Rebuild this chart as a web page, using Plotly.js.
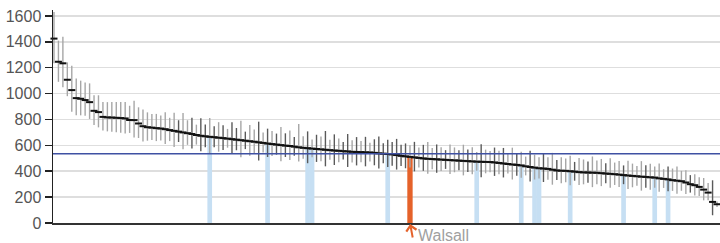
<!DOCTYPE html>
<html>
<head>
<meta charset="utf-8">
<script src="https://cdn.plot.ly/plotly-3.0.1.min.js"></script>
<style>html,body{margin:0;padding:0;background:#fff;}#chart{width:720px;height:243px;}</style>
</head>
<body>
<div id="chart"></div>
<script>
// Rates sorted from highest to lowest (one entry per area)
const values = [
1425,1246,1234,1107,1027,965,960,950,934,867,
857,820,816,815,813,811,808,796,795,769,
748,740,737,733,730,725,718,712,706,700,
694,688,680,674,670,666,663,659,656,652,
648,644,640,636,632,628,623,619,614,610,
606,602,598,595,590,585,581,578,575,572,
569,566,563,560,558,555,553,550,549,548,
546,545,542,538,536,533,530,525,519,515,
511,507,503,499,496,494,492,490,488,486,
484,482,480,478,476,474,473,472,471,468,
464,460,456,452,449,445,438,433,428,423,
421,418,412,406,404,403,400,397,393,391,
390,389,388,385,382,380,377,374,370,367,
364,361,358,356,353,351,345,341,337,331,
327,323,313,300,292,279,258,235,163,145];
// Upper and lower 95% confidence interval distances
const ciPlus = [
205,163,206,134,188,152,140,135,145,120,
130,115,118,120,122,125,128,110,150,125,
130,115,105,110,100,130,95,140,88,150,
100,125,80,135,92,145,85,120,100,75,
130,90,150,70,125,95,160,80,115,100,
85,140,95,120,75,180,90,130,70,110,
100,145,80,125,95,70,135,90,115,85,
120,75,105,130,80,110,95,125,85,100,
90,120,80,105,130,85,115,95,75,120,
100,80,125,90,110,75,135,95,85,115,
95,120,80,130,90,105,75,125,100,85,
115,90,130,80,105,95,120,75,110,100,
85,125,95,110,80,120,90,105,75,115,
95,80,120,90,105,85,115,75,100,90,
110,80,95,70,85,75,90,75,167,22];
const ciMinus = [
190,155,184,127,168,132,128,122,130,110,
118,105,108,110,112,114,116,100,135,112,
118,104,96,100,92,115,85,125,80,130,
90,112,74,120,85,128,78,108,92,70,
115,82,132,65,112,88,140,74,104,92,
78,124,88,108,70,110,84,116,66,100,
92,128,74,112,88,65,120,83,104,79,
108,70,96,116,74,100,88,112,79,92,
83,108,74,96,116,79,104,88,70,108,
92,74,112,83,100,70,120,88,79,104,
88,108,74,116,83,96,70,112,92,79,
104,83,116,74,96,88,108,70,100,92,
79,112,88,100,74,108,83,96,70,104,
88,74,108,83,96,79,104,70,92,83,
100,74,88,65,79,70,83,60,103,22];
// Areas whose interval is drawn in the darker grey
const darkIdx = [28,31,33,34,36,38,40,41,43,46,48,50,52,54,57,59,61,63,65,66,68,70,72,73,74,75,76,77,78,79,81,83,86,88,91,93,96,99,101,104,107,110,113,117,120,124,128,133,138,143,148];
// Highlighted comparator areas and the selected area
const highlightIdx = [35,48,57,58,75,95,105,108,109,116,128,135,138];
const selectedIdx = 80;
const selectedName = "Walsall";
const englandValue = 535;
const yTicks = [0,200,400,600,800,1000,1200,1400,1600];

const idx = values.map((v,i)=>i);
const lightIdx = idx.filter(i=>!darkIdx.includes(i));

function ciTrace(list, color){
  return {
    type:'scatter', mode:'markers', x:list, y:list.map(i=>values[i]),
    marker:{size:1,color:'rgba(0,0,0,0)'},
    error_y:{type:'data',symmetric:false,array:list.map(i=>ciPlus[i]),arrayminus:list.map(i=>ciMinus[i]),color:color,thickness:1.4,width:0},
    hoverinfo:'skip', cliponaxis:false
  };
}

const traces = [
  {type:'bar', x:highlightIdx, y:highlightIdx.map(i=>values[i]), width:1.05, marker:{color:'#c6dff3',line:{width:0}}, hoverinfo:'skip'},
  {type:'bar', x:[selectedIdx], y:[values[selectedIdx]], width:1.2, marker:{color:'#e5622a',line:{width:0}}, hoverinfo:'skip'},
  ciTrace(lightIdx,'#a6a6a6'),
  ciTrace(darkIdx,'#5a5a5a'),
  {type:'scatter', mode:'markers', x:idx, y:values, marker:{symbol:'line-ew',size:5,line:{width:2,color:'#111'},color:'#111'}, hoverinfo:'skip', cliponaxis:false}
];

const layout = {
  width:720, height:243,
  margin:{l:53,r:0,t:10,b:20},
  paper_bgcolor:'#fff', plot_bgcolor:'#fff',
  showlegend:false, barmode:'overlay',
  font:{family:'Liberation Sans, Arial, sans-serif'},
  xaxis:{range:[-0.22,149.67], showgrid:false, zeroline:false, showticklabels:false, ticks:'', showline:true, linecolor:'#333', linewidth:1.5},
  yaxis:{range:[0,1646], tickvals:yTicks, ticktext:yTicks.map(String), showgrid:true, gridcolor:'#dedede', gridwidth:1.5, zeroline:false,
         showline:true, linecolor:'#222', linewidth:1.5, ticks:'outside', ticklen:7, tickwidth:1.5, tickcolor:'#222',
         tickfont:{size:16,color:'#555'}},
  shapes:[{type:'line', xref:'paper', x0:0, x1:1, yref:'y', y0:englandValue, y1:englandValue, line:{color:'#3f51a3',width:1.5}, layer:'above'}],
  annotations:[
    {x:selectedIdx, y:0, xref:'x', yref:'y', text:'', showarrow:true, ax:3, ay:16, arrowhead:4, arrowsize:1, arrowwidth:2, arrowcolor:'#e5622a', standoff:1},
    {x:selectedIdx, y:0, xref:'x', yref:'y', text:selectedName, showarrow:false, xanchor:'left', yanchor:'middle', xshift:6, yshift:-12, font:{size:16,color:'#a0a0a0'}}
  ]
};

Plotly.newPlot('chart', traces, layout, {staticPlot:true, displayModeBar:false});
</script>
</body>
</html>
